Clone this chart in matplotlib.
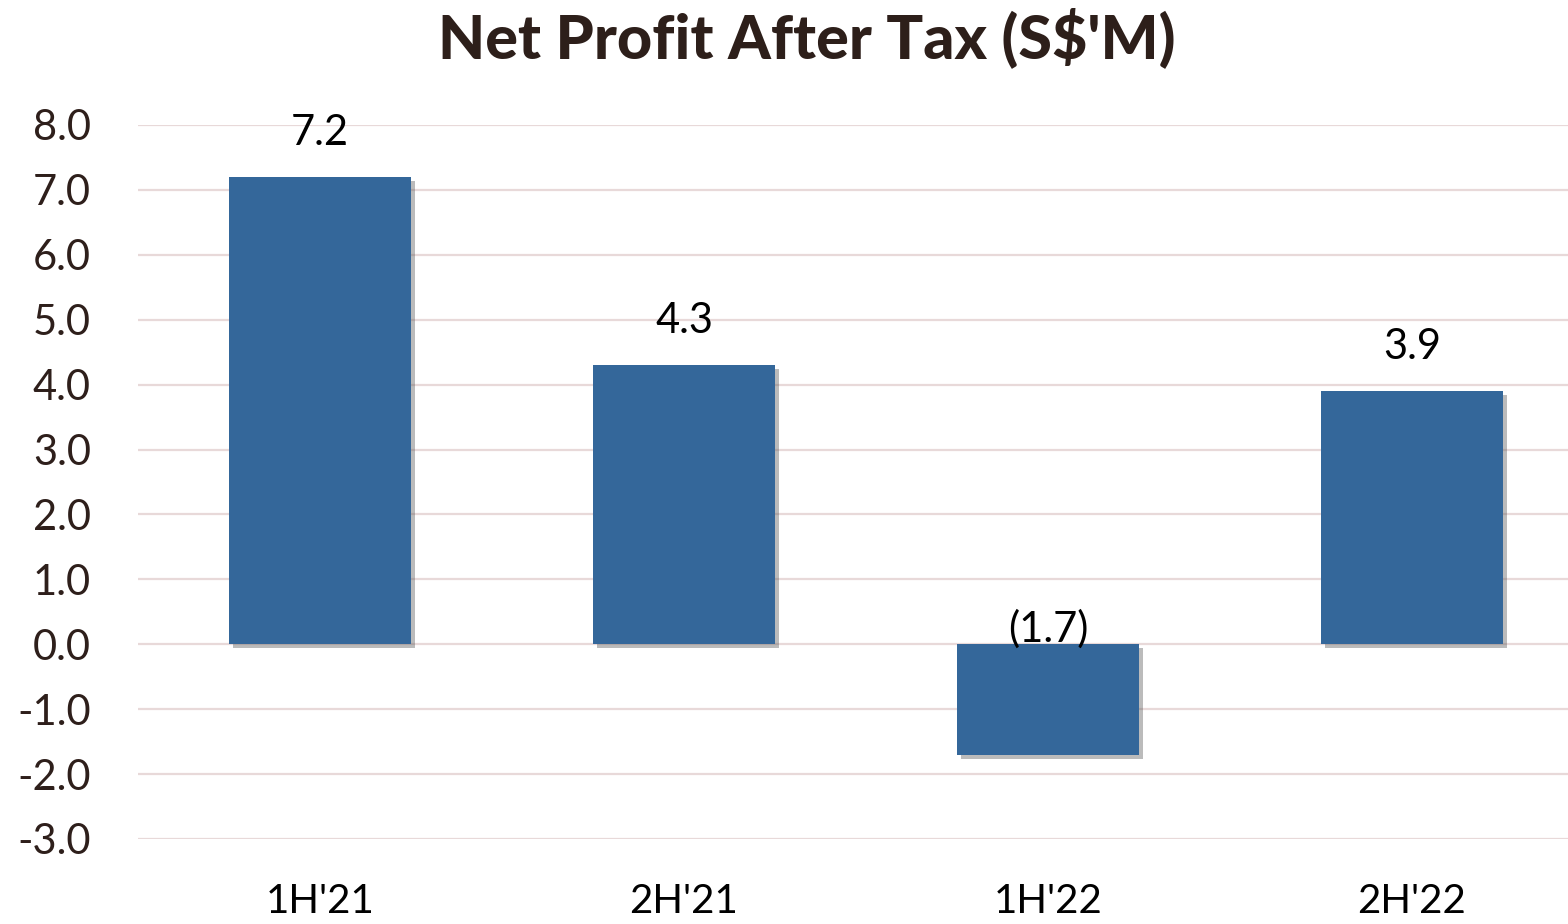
import matplotlib
matplotlib.use("Agg")
import matplotlib.pyplot as plt
import matplotlib.patheffects as pe

categories = ["1H'21", "2H'21", "1H'22", "2H'22"]
values = [7.2, 4.3, -1.7, 3.9]
labels = ["7.2", "4.3", "(1.7)", "3.9"]
yticks = [-3, -2, -1, 0, 1, 2, 3, 4, 5, 6, 7, 8]

W, H = 1568, 924
fig = plt.figure(figsize=(W / 100, H / 100), dpi=100)
ax = fig.add_axes([138 / W, 1 - 839 / H, 1 - 138 / W, (839 - 125) / H])

font = "Lato"
tick_color = "#2e1f1b"

x = list(range(len(categories)))
bars = ax.bar(x, values, width=0.5, color="#34679a", zorder=3)
for b in bars:
    b.set_path_effects([pe.SimplePatchShadow(offset=(3, -3), shadow_rgbFace="#555555", alpha=0.4), pe.Normal()])

ax.set_ylim(-3, 8)
ax.set_xlim(-0.5, -0.5 + (W - 138) / 364)
ax.set_yticks(yticks)
ax.set_yticklabels([f"{t:.1f}" for t in yticks], fontfamily=font, fontsize=30, color=tick_color)
ax.set_xticks(x)
ax.set_xticklabels(categories, fontfamily=font, fontsize=29, color="black")
ax.tick_params(axis="both", length=0)
ax.tick_params(axis="y", pad=34)
ax.tick_params(axis="x", pad=32)
for s in ax.spines.values():
    s.set_visible(False)
ax.grid(axis="y", color="#e8d9d9", linewidth=1.6, zorder=0)

for xi, v, lab in zip(x, values, labels):
    if v >= 0:
        ax.annotate(lab, (xi, v), xytext=(0, 18), textcoords="offset points",
                    ha="center", va="bottom", fontsize=30, fontfamily=font, color="black")
    else:
        ax.annotate(lab, (xi, 0), xytext=(0, -3), textcoords="offset points",
                    ha="center", va="bottom", fontsize=30, fontfamily=font, color="black")

fig.text(807 / W, 1 - 38 / H, "Net Profit After Tax (S$'M)", ha="center", va="center",
         fontsize=44, fontweight="black", fontfamily=font, color="#2d1f1a")

fig.savefig("out.png", dpi=100)
